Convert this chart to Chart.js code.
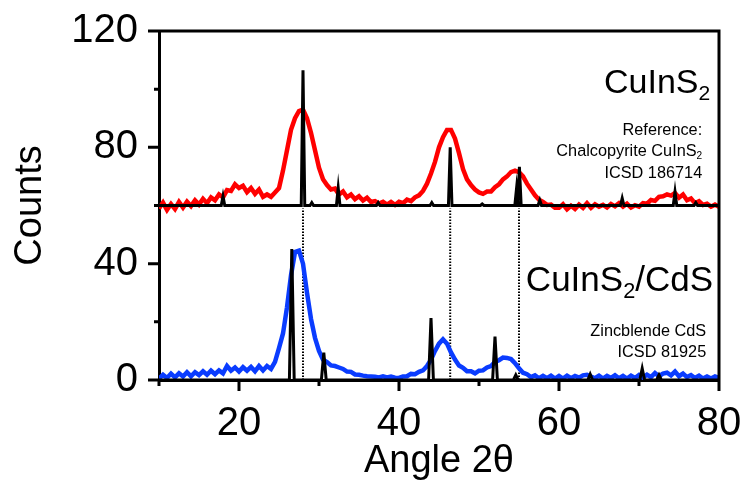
<!DOCTYPE html>
<html>
<head>
<meta charset="utf-8">
<script src="https://cdn.jsdelivr.net/npm/chart.js@4.4.1/dist/chart.umd.min.js"></script>
<style>
  html, body { margin: 0; padding: 0; background: #fff; }
</style>
</head>
<body>
<canvas id="xrd" width="746" height="481"></canvas>
<script>
// 2-theta grid of the scans (step 0.5 deg)
var angle = [
  10, 10.5, 11, 11.5, 12, 12.5, 13, 13.5, 14, 14.5,
  15, 15.5, 16, 16.5, 17, 17.5, 18, 18.5, 19, 19.5,
  20, 20.5, 21, 21.5, 22, 22.5, 23, 23.5, 24, 24.5,
  25, 25.5, 26, 26.5, 27, 27.5, 28, 28.5, 29, 29.5,
  30, 30.5, 31, 31.5, 32, 32.5, 33, 33.5, 34, 34.5,
  35, 35.5, 36, 36.5, 37, 37.5, 38, 38.5, 39, 39.5,
  40, 40.5, 41, 41.5, 42, 42.5, 43, 43.5, 44, 44.5,
  45, 45.5, 46, 46.5, 47, 47.5, 48, 48.5, 49, 49.5,
  50, 50.5, 51, 51.5, 52, 52.5, 53, 53.5, 54, 54.5,
  55, 55.5, 56, 56.5, 57, 57.5, 58, 58.5, 59, 59.5,
  60, 60.5, 61, 61.5, 62, 62.5, 63, 63.5, 64, 64.5,
  65, 65.5, 66, 66.5, 67, 67.5, 68, 68.5, 69, 69.5,
  70, 70.5, 71, 71.5, 72, 72.5, 73, 73.5, 74, 74.5,
  75, 75.5, 76, 76.5, 77, 77.5, 78, 78.5, 79, 79.5,
  80
]

// CuInS2 scan (offset by 60 counts)
var cuins2 = [
  59, 61, 58.5, 60.5, 58.8, 61.2, 59.3, 61.3, 59.8, 61.8,
  60.3, 62.3, 60.8, 62.8, 61.8, 63.8, 62.8, 65.3, 65, 67.3,
  66, 66.8, 64.6, 66, 64, 65.5, 63, 63.8, 63, 64.5,
  66, 72, 79, 86, 90, 92.5, 93, 90, 85, 79,
  73, 69, 67, 65.5, 65.8, 63.8, 64.8, 62.8, 63.8, 62.2,
  63.2, 61.7, 62.7, 61.2, 61.5, 60.7, 61.3, 60.3, 61.2, 60.2,
  61.3, 60.8, 62, 61.5, 62.8, 63.5, 65, 67.5, 71, 75,
  80, 83.5, 86, 86, 83, 78, 72.5, 69, 67, 65.5,
  64.5, 64, 64.8, 64.8, 66.3, 67.3, 69, 70, 71.5, 72,
  71.5, 70, 67.5, 65.5, 63.5, 62, 61.2, 60.2, 60.3, 59.2,
  59.2, 60.4, 58.7, 59.9, 58.8, 60.3, 59.2, 60.8, 59.2, 60.4,
  59.6, 60.2, 59.3, 60.5, 59.7, 60.8, 59.6, 60.6, 59.3, 60.1,
  59.6, 60.8, 60.6, 61.9, 61.6, 63, 63.2, 63.8, 63.4, 64.3,
  62.7, 63.8, 61.8, 62.4, 60.8, 61.5, 60.2, 60.6, 59.6, 60.3,
  59.6
]

// CuInS2/CdS scan
var cuins2Cds = [
  0.5, 1.8, 0.7, 2.2, 0.9, 2.3, 1.2, 2.7, 1.3, 2.7,
  1.7, 3, 1.8, 3.2, 2, 3.3, 2.3, 4.8, 3.2, 4.3,
  2.9, 4.4, 3.2, 4.5, 3, 4.8, 3.3, 4.8, 3.8, 6.2,
  11, 16, 25, 36, 44, 44.5, 40, 30, 21, 14.5,
  10, 7, 6.2, 5, 4.8, 4.3, 3.8, 2.9, 2.8, 1.9,
  1.8, 1.5, 1.3, 1.2, 1.1, 0.9, 1.3, 0.9, 1.2, 0.8,
  0.7, 1.2, 1.3, 2.1, 2, 2.8, 3.3, 4.8, 7, 10,
  12.5, 14, 12.5, 9.5, 7, 5, 4.2, 3, 3, 2.3,
  3.2, 3.3, 4.3, 4.8, 6.2, 6.8, 7.7, 7.6, 7.2, 5.8,
  4, 2.5, 2, 1, 1.6, 0.6, 1.4, 0.6, 1.5, 0.5,
  1.4, 0.5, 1.5, 0.6, 1.4, 0.8, 1.6, 1.8, 1.2, 0.6,
  1.5, 0.5, 1.4, 0.7, 1.6, 0.6, 1.4, 0.5, 1.5, 0.7,
  1.7, 0.8, 1.8, 1, 2.4, 1.3, 2.2, 2.5, 1.6, 2.9,
  1.3, 2.2, 1, 1.7, 0.7, 1.5, 0.5, 1.2, 0.5, 1.2,
  0.7
]

// reference patterns: peak positions and heights
var chalcoPos = [18.0, 28.0, 29.1, 32.4, 37.4, 44.1, 46.4, 50.4, 54.7, 55.05, 57.6, 67.9, 74.5, 77.1]
var chalcoInt = [3.2, 46.5, 1, 6, 1, 1, 20, 0.5, 6, 13.3, 1.8, 2.5, 4.7, 1]
var chalcoBase = 60
var zincPos = [26.6, 30.6, 44.0, 52.0, 54.6, 63.9, 70.4, 72.5]
var zincInt = [45, 9.4, 21.3, 14.9, 1.7, 2, 4, 1.7]
var zincBase = 0

// dotted guides at the main chalcopyrite reflections
var guidePos = [28.0, 46.4, 55.0]
var guideTop = 59

var xMajor = [20, 40, 60, 80], xMinor = [10, 30, 50, 70]
var yMajor = [0, 40, 80, 120], yMinor = [20, 60, 100]

function scanPoints(ys) {
  return angle.map(function (a, i) { return { x: a, y: ys[i] } })
}

// stick pattern as a continuous trace with narrow peaks
function stickPoints(pos, ints, base, half) {
  var pts = [{ x: 10, y: base }]
  pos.forEach(function (p, i) {
    pts.push({ x: p - half, y: base })
    pts.push({ x: p, y: base + ints[i] })
    pts.push({ x: p + half, y: base })
  })
  pts.push({ x: 80, y: base })
  return pts
}

function guidePoints() {
  var pts = []
  guidePos.forEach(function (p) {
    pts.push({ x: p, y: 0 }, { x: p, y: guideTop }, { x: p, y: null })
  })
  return pts
}

var FONT = '"Liberation Sans", Arial, sans-serif'

function drawRich(ctx, parts, xr, yb, size) {
  var w = 0
  parts.forEach(function (p) {
    ctx.font = (p[1] ? size * 0.62 : size) + 'px ' + FONT
    w += ctx.measureText(p[0]).width
  })
  var cx = xr - w
  parts.forEach(function (p) {
    ctx.font = (p[1] ? size * 0.62 : size) + 'px ' + FONT
    ctx.fillText(p[0], cx, p[1] ? yb + size * 0.21 : yb)
    cx += ctx.measureText(p[0]).width
  })
}

// keep label overhang from shrinking the plot box
function noScalePadding(s) {
  s.paddingTop = 0; s.paddingBottom = 0; s.paddingLeft = 0; s.paddingRight = 0
}

var frameAndLabels = {
  id: 'frameAndLabels',
  afterDraw: function (chart) {
    var ctx = chart.ctx, a = chart.chartArea
    var sx = chart.scales.x, sy = chart.scales.y
    ctx.save()
    ctx.strokeStyle = '#000'
    ctx.lineWidth = 3
    ctx.beginPath()
    ctx.moveTo(a.left - 1.5, a.top)
    ctx.lineTo(a.right, a.top)
    ctx.lineTo(a.right, a.bottom + 1.5)
    xMajor.forEach(function (v) {
      var p = sx.getPixelForValue(v)
      ctx.moveTo(p, a.bottom); ctx.lineTo(p, a.bottom + 11)
    })
    xMinor.forEach(function (v) {
      var p = sx.getPixelForValue(v)
      ctx.moveTo(p, a.bottom); ctx.lineTo(p, a.bottom + 6)
    })
    yMajor.forEach(function (v) {
      var p = sy.getPixelForValue(v)
      ctx.moveTo(a.left, p); ctx.lineTo(a.left - 11, p)
    })
    yMinor.forEach(function (v) {
      var p = sy.getPixelForValue(v)
      ctx.moveTo(a.left, p); ctx.lineTo(a.left - 5, p)
    })
    ctx.stroke()

    ctx.fillStyle = '#000'
    ctx.textBaseline = 'alphabetic'
    ctx.textAlign = 'left'
    var X = function (v) { return sx.getPixelForValue(v) }
    var Y = function (v) { return sy.getPixelForValue(v) }
    drawRich(ctx, [['CuInS', 0], ['2', 1]], X(78.9), Y(98.7), 34)
    drawRich(ctx, [['Reference:', 0]], X(77.9), Y(84.2), 16.3)
    drawRich(ctx, [['Chalcopyrite CuInS', 0], ['2', 1]], X(77.9), Y(77.0), 16.3)
    drawRich(ctx, [['ICSD 186714', 0]], X(77.9), Y(69.5), 16.3)
    drawRich(ctx, [['CuInS', 0], ['2', 1], ['/CdS', 0]], X(79.25), Y(30.7), 35)
    drawRich(ctx, [['Zincblende CdS', 0]], X(78.4), Y(15.1), 16.3)
    drawRich(ctx, [['ICSD 81925', 0]], X(78.4), Y(7.9), 16.3)
    ctx.restore()
  }
}

var ctx = document.getElementById('xrd').getContext('2d')
var chart = new Chart(ctx, {
  type: 'line',
  data: {
    datasets: [
      {
        label: 'Chalcopyrite CuInS2',
        data: stickPoints(chalcoPos, chalcoInt, chalcoBase, 0.22),
        borderColor: '#000', borderWidth: 3, order: 0
      },
      {
        label: 'Zincblende CdS',
        data: stickPoints(zincPos, zincInt, zincBase, 0.3),
        borderColor: '#000', borderWidth: 3, order: 0
      },
      {
        label: 'CuInS2',
        data: scanPoints(cuins2),
        borderColor: '#ff0000', borderWidth: 4.5, order: 1
      },
      {
        label: 'CuInS2/CdS',
        data: scanPoints(cuins2Cds),
        borderColor: '#0a3cff', borderWidth: 4.5, order: 1
      },
      {
        label: 'guides',
        data: guidePoints(),
        borderColor: '#000', borderWidth: 2, borderDash: [1.5, 1.5],
        spanGaps: false, order: 2
      }
    ]
  },
  options: {
    responsive: false,
    animation: false,
    devicePixelRatio: 1,
    layout: { padding: { top: 31, right: 27, left: 0, bottom: 0 } },
    elements: { point: { radius: 0 }, line: { tension: 0, fill: false } },
    plugins: { legend: { display: false }, tooltip: { enabled: false } },
    scales: {
      x: {
        type: 'linear', min: 10, max: 80,
        afterFit: function (s) { s.height = 101; noScalePadding(s) },
        grid: { display: false, drawTicks: false },
        border: { display: true, color: '#000', width: 3 },
        ticks: {
          stepSize: 10, autoSkip: false, maxRotation: 0, padding: 20,
          color: '#000', font: { family: FONT, size: 40 },
          callback: function (v) { return v % 20 === 0 ? v : '' }
        },
        title: {
          display: true, text: 'Angle 2θ', color: '#000',
          font: { family: FONT, size: 38, lineHeight: 1 },
          padding: { top: 0, bottom: 0 }
        }
      },
      y: {
        min: 0, max: 120,
        afterFit: function (s) { s.width = 159; noScalePadding(s) },
        grid: { display: false, drawTicks: false },
        border: { display: true, color: '#000', width: 3 },
        ticks: {
          stepSize: 40, padding: 21,
          color: '#000', font: { family: FONT, size: 40 }
        },
        title: {
          display: true, text: 'Counts', color: '#000',
          font: { family: FONT, size: 38, lineHeight: 1 },
          padding: { top: 12, bottom: 0 }
        }
      }
    }
  },
  plugins: [frameAndLabels]
})
</script>
</body>
</html>
